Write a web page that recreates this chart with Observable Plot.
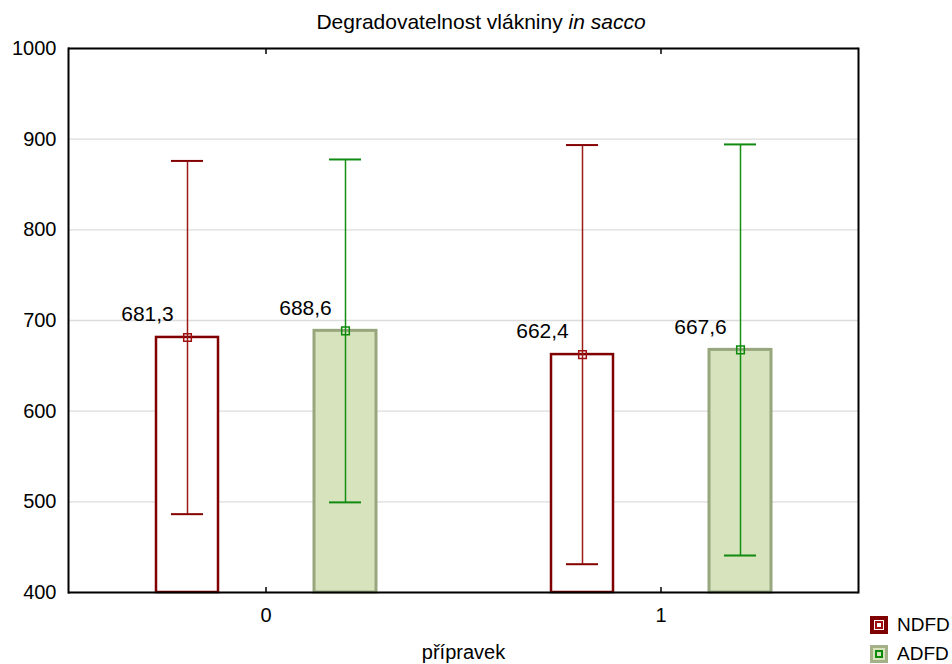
<!DOCTYPE html>
<html>
<head>
<meta charset="utf-8">
<script src="https://cdn.jsdelivr.net/npm/d3@7"></script>
<script src="https://cdn.jsdelivr.net/npm/@observablehq/plot@0.6"></script>
<style>
  body { margin: 0; background: #fff; font-family: "Liberation Sans", Arial, sans-serif; }
  #wrap { position: relative; width: 952px; height: 664px; }
  #title { position: absolute; left: 0; width: 962px; top: 10px; line-height: 24px; text-align: center; font-size: 21px; color: #000; }
  #legend { position: absolute; left: 870px; top: 610px; font-size: 19px; color: #000; }
  .item { display: flex; align-items: center; height: 29px; }
  .sw { width: 18px; height: 18px; margin-right: 9px; box-sizing: border-box; display: flex; align-items: center; justify-content: center; }
  .in { width: 8px; height: 8px; box-sizing: border-box; border: 2px solid; }
</style>
</head>
<body>
<div id="wrap">
  <div id="title">Degradovatelnost vlákniny <i>in sacco</i></div>
  <div id="chart"></div>
  <div id="legend">
    <div class="item"><span class="sw" style="border:4px solid #800000;background:#fff"><span class="in" style="border-color:#a01010"></span></span>NDFD</div>
    <div class="item"><span class="sw" style="border:3px solid #a3b088;background:#d7e3bd"><span class="in" style="border-color:#0a8a0a"></span></span>ADFD</div>
  </div>
</div>
<script>
const groups = ["0", "0", "1", "1"];
const series = ["NDFD", "ADFD", "NDFD", "ADFD"];
const means = [681.3, 688.6, 662.4, 667.6];
const lows = [486.4, 499.4, 431.2, 440.8];
const highs = [876.0, 877.6, 893.5, 894.2];
const yTicks = [400, 500, 600, 700, 800, 900, 1000];
const groupLabels = ["0", "1"];
const seriesNames = ["NDFD", "ADFD"];

const data = groups.map((g, i) => ({group: g, series: series[i], mean: means[i], low: lows[i], high: highs[i]}));
const nd = data.filter(d => d.series === "NDFD");
const ad = data.filter(d => d.series === "ADFD");
const fmt = v => v.toFixed(1).replace(".", ",");

const chart = Plot.plot({
  width: 952,
  height: 664,
  marginTop: 48,
  marginLeft: 68,
  marginRight: 94,
  marginBottom: 72,
  style: {fontFamily: "'Liberation Sans', Arial, sans-serif", color: "#000", background: "transparent", fontSize: "20px"},
  fx: {domain: groupLabels, padding: 0, label: "přípravek"},
  x: {domain: seriesNames, paddingInner: 0.6076, paddingOuter: 0.5538, axis: null},
  y: {domain: [400, 1000], axis: null},
  marks: [
    Plot.gridY(yTicks, {stroke: "#dcdcdc", strokeOpacity: 1, strokeWidth: 1.3}),
    Plot.barY(nd, {fx: "group", x: "series", y1: 400, y2: "mean", fill: "#ffffff", stroke: "#800000", strokeWidth: 2.5}),
    Plot.barY(ad, {fx: "group", x: "series", y1: 400, y2: "mean", fill: "#d7e3bd", stroke: "#98a67e", strokeWidth: 3}),
    Plot.ruleX(nd, {fx: "group", x: "series", y1: "low", y2: "high", stroke: "#9a1a1a", strokeWidth: 1.5}),
    Plot.ruleX(ad, {fx: "group", x: "series", y1: "low", y2: "high", stroke: "#129012", strokeWidth: 1.5}),
    Plot.tickY(nd, {fx: "group", x: "series", y: "low", insetLeft: 15, insetRight: 15, stroke: "#850000", strokeWidth: 2}),
    Plot.tickY(nd, {fx: "group", x: "series", y: "high", insetLeft: 15, insetRight: 15, stroke: "#850000", strokeWidth: 2}),
    Plot.tickY(ad, {fx: "group", x: "series", y: "low", insetLeft: 15, insetRight: 15, stroke: "#108a10", strokeWidth: 2}),
    Plot.tickY(ad, {fx: "group", x: "series", y: "high", insetLeft: 15, insetRight: 15, stroke: "#108a10", strokeWidth: 2}),
    Plot.dot(nd, {fx: "group", x: "series", y: "mean", symbol: "square", r: 4.3, stroke: "#a01010", strokeWidth: 1.5, fill: "none"}),
    Plot.dot(ad, {fx: "group", x: "series", y: "mean", symbol: "square", r: 4.3, stroke: "#0a8a0a", strokeWidth: 1.5, fill: "none"}),
    Plot.text(data, {fx: "group", x: "series", y: "mean", text: d => fmt(d.mean), dx: -40, dy: -23, fontSize: 21, fill: "#000"}),
    Plot.ruleY([400, 1000], {stroke: "#000", strokeWidth: 2}),
    Plot.frame({anchor: "left", facetAnchor: "left", stroke: "#000", strokeWidth: 2}),
    Plot.frame({anchor: "right", facetAnchor: "right", stroke: "#000", strokeWidth: 2}),
    Plot.axisY(yTicks, {anchor: "left", tickSize: 0, tickPadding: 12, fontSize: 20, tickFormat: d => String(d), label: null}),
    Plot.axisFx({anchor: "bottom", tickSize: 0, tickPadding: 15, fontSize: 20, label: "přípravek", labelAnchor: "center", labelOffset: 66}),
    Plot.axisFx({anchor: "bottom", tickSize: 5, dy: -5, text: null, label: null, strokeWidth: 1.5}),
    Plot.axisFx({anchor: "top", tickSize: 5, dy: 5, text: null, label: null, strokeWidth: 1.5})
  ]
});
document.getElementById("chart").appendChild(chart);
</script>
</body>
</html>
